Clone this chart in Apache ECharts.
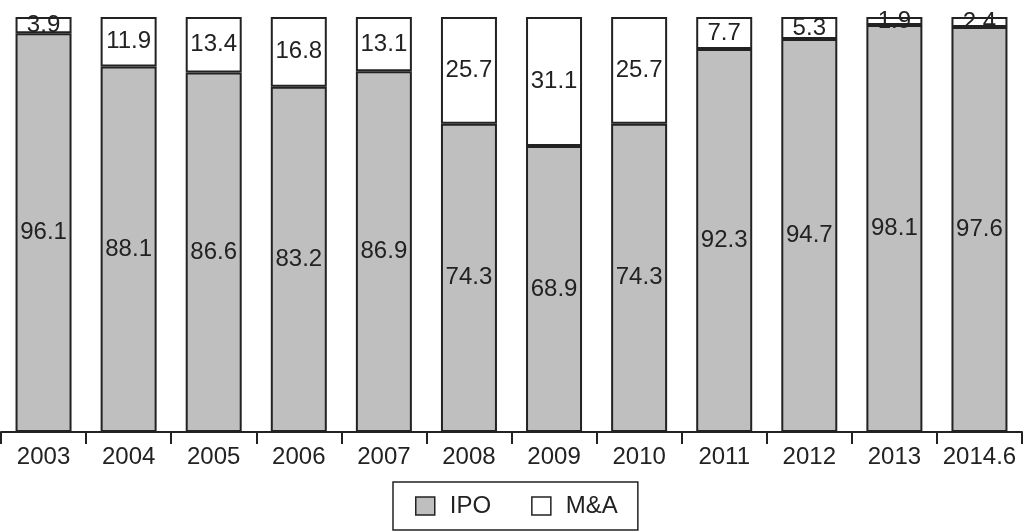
<!DOCTYPE html>
<html>
<head>
<meta charset="utf-8">
<script src="https://cdn.jsdelivr.net/npm/echarts@6/dist/echarts.min.js"></script>
<style>html,body{margin:0;padding:0;background:#fff;}#c{width:1023px;height:532px;}</style>
</head>
<body>
<div id="c"></div>
<script>
const categories = ['2003','2004','2005','2006','2007','2008','2009','2010','2011','2012','2013','2014.6'];
const ipoValues = [96.1, 88.1, 86.6, 83.2, 86.9, 74.3, 68.9, 74.3, 92.3, 94.7, 98.1, 97.6];
const maValues = [3.9, 11.9, 13.4, 16.8, 13.1, 25.7, 31.1, 25.7, 7.7, 5.3, 1.9, 2.4];

const FONT = '"Liberation Sans Narrow", "Arial Narrow", sans-serif';
const chart = echarts.init(document.getElementById('c'), null, {renderer: 'canvas'});
const labelStyle = {show: true, position: 'inside', color: '#222', fontSize: 24, fontFamily: FONT,
  formatter: p => p.value.toFixed(1)};
chart.setOption({
  animation: false,
  backgroundColor: '#fff',
  grid: {left: 1, right: 1, top: 17, bottom: 100, containLabel: false},
  xAxis: {
    type: 'category', data: categories, boundaryGap: true,
    axisLine: {show: true, lineStyle: {color: '#222', width: 2}},
    axisTick: {show: true, length: 12, lineStyle: {color: '#222', width: 2}},
    axisLabel: {color: '#222', fontSize: 24, fontFamily: FONT, margin: 13, interval: 0}
  },
  yAxis: {type: 'value', min: 0, max: 100, show: false, splitLine: {show: false}},
  legend: {
    bottom: 2, left: 393,
    data: [
      {name: 'IPO', itemStyle: {color: '#bfbfbf', borderColor: '#222', borderWidth: 1.5}},
      {name: 'M&A', itemStyle: {color: '#fff', borderColor: '#222', borderWidth: 1.5}}
    ],
    icon: 'rect', itemWidth: 19, itemHeight: 18, itemGap: 40,
    borderColor: '#222', borderWidth: 1.5, padding: [12, 20, 12, 22],
    textStyle: {color: '#222', fontSize: 24, fontFamily: FONT, padding: [0, 0, 0, 10]}
  },
  series: [
    {name: 'IPO', type: 'bar', stack: 'a', data: ipoValues, barWidth: 56,
     itemStyle: {color: '#bfbfbf', borderColor: '#222', borderWidth: 2}, label: labelStyle},
    {name: 'M&A', type: 'bar', stack: 'a', data: maValues, barWidth: 56,
     itemStyle: {color: '#fff', borderColor: '#222', borderWidth: 2}, label: labelStyle}
  ]
});
</script>
</body>
</html>
